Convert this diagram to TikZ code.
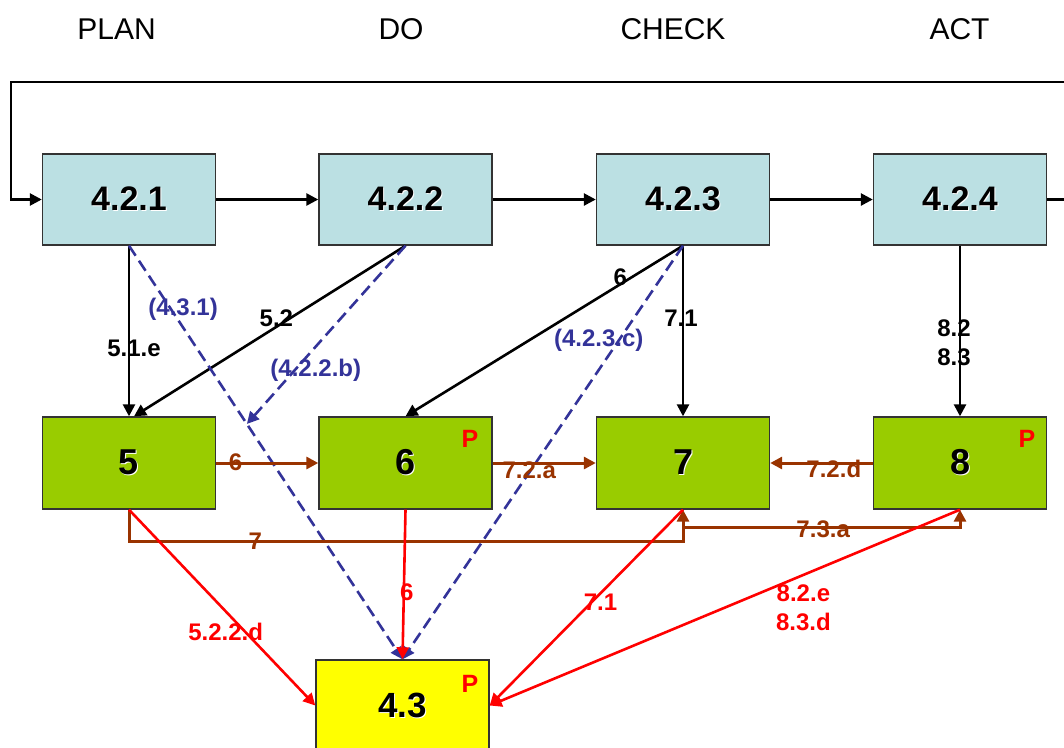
\documentclass[tikz,border=0pt]{standalone}
\usepackage{fontspec}
\setmainfont{Liberation Sans}
\usetikzlibrary{arrows.meta,calc}
\definecolor{boxblue}{HTML}{BBE0E3}
\definecolor{boxgreen}{HTML}{99CC00}
\definecolor{boxyellow}{HTML}{FFFF00}
\definecolor{lnbrown}{HTML}{993300}
\definecolor{lnblue}{HTML}{333399}
\definecolor{lnred}{HTML}{FF0000}
\newcommand\emb[1]{\leavevmode\rlap{\kern1pt\raisebox{-1pt}{\color{white}#1}}#1}
\begin{document}
\begin{tikzpicture}[x=1pt,y=-1pt,
  box/.style={draw=black!80,line width=1.4pt,minimum width=173pt,minimum height=91pt,inner sep=0pt,font=\fontsize{34}{40}\selectfont\bfseries},
  midbox/.style={box,fill=boxgreen,minimum height=92pt,font=\fontsize{36}{42}\selectfont\bfseries},
  hdr/.style={anchor=base,inner sep=0pt,font=\fontsize{30}{36}\selectfont},
  lbl/.style={inner sep=0pt,font=\fontsize{24}{29}\selectfont\bfseries},
  pmark/.style={inner sep=0pt,text=lnred,font=\fontsize{25}{30}\selectfont\bfseries},
  tip/.style={-{Triangle[length=12pt,width=12pt]}},
  blk/.style={draw=black,line width=2.6pt,tip},
  bl/.style={draw=lnblue,line width=2.6pt,dash pattern=on 12pt off 6pt,tip},
  br/.style={draw=lnbrown,line width=3pt,tip},
  rd/.style={draw=lnred,line width=2.6pt,tip}]
\useasboundingbox (0,0) rectangle (1064,747);
\clip (0,0) rectangle (1064,747);
\fill[white] (0,0) rectangle (1064,747);
% headers
\node[hdr] (hplan) at (116.5,39.3) {PLAN};
\node[hdr] (hdo) at (401,39.3) {DO};
\node[hdr] (hcheck) at (673,39.3) {CHECK};
\node[hdr] (hact) at (959.5,39.3) {ACT};
% boxes
\node[box,fill=boxblue] (n421) at (129,199.5) {\emb{4.2.1}};
\node[box,fill=boxblue] (n422) at (405.5,199.5) {\emb{4.2.2}};
\node[box,fill=boxblue] (n423) at (683,199.5) {\emb{4.2.3}};
\node[box,fill=boxblue] (n424) at (960,199.5) {\emb{4.2.4}};
\node[midbox] (n5) at (129,463) {\emb{5}};
\node[midbox] (n6) at (405.5,463) {\emb{6}};
\node[midbox] (n7) at (683,463) {\emb{7}};
\node[midbox] (n8) at (960,463) {\emb{8}};
\node[box,fill=boxyellow,font=\fontsize{35}{41}\selectfont\bfseries] (n43) at (402.5,705.5) {\emb{4.3}};
\node[pmark] (p6) at (470,439) {P};
\node[pmark] (p8) at (1027,439) {P};
\node[pmark] (p43) at (470,684) {P};
% top chain and loop
\draw[blk] (n421) -- (n422);
\draw[blk] (n422) -- (n423);
\draw[blk] (n423) -- (n424);
\coordinate (lr) at (1085,199.5);
\coordinate (ltr) at (1085,82);
\coordinate (ltl) at (11,82);
\coordinate (llb) at (11,199.5);
\draw[blk] (n424.east) -- (lr) -- (ltr) -- (ltl) -- (llb) -- (n421.west);
% black down arrows
\draw[blk] (n421.south) -- (n5.north) node[lbl,pos=0.6,xshift=5pt]{5.1.e};
\draw[blk] (n422.south) -- ([xshift=5pt]n5.north) node[lbl,pos=0.424,xshift=-14pt]{5.2};
\draw[blk] (n423.south) -- (n6.north) node[lbl,pos=0.186,xshift=-11pt]{6};
\draw[blk] (n423.south) -- (n7.north) node[lbl,pos=0.424,xshift=-2pt]{7.1};
\draw[blk] (n424.south) -- (n8.north) node[lbl,pos=0.57,xshift=-6pt,align=center]{8.2\\8.3};
% blue dashed
\draw[bl] (n421.south) -- (n43.north) node[lbl,text=lnblue,pos=0.154,xshift=12pt]{(4.3.1)};
\coordinate (b22) at ($(n421.south)!0.431!(n43.north)$);
\draw[bl] (n422.south) -- (b22) node[lbl,text=lnblue,pos=0.698,xshift=21pt]{(4.2.2.b)};
\draw[bl] (n423.south) -- (n43.north) node[lbl,text=lnblue,pos=0.229,xshift=-20pt]{(4.2.3.c)};
% brown
\draw[br] (n5) -- (n6) node[lbl,text=lnbrown,pos=0.19,yshift=1pt]{6};
\draw[br] (n6) -- (n7) node[lbl,text=lnbrown,pos=0.354,yshift=-7pt]{7.2.a};
\draw[br] (n8) -- (n7) node[lbl,text=lnbrown,pos=0.38,yshift=-6pt]{7.2.d};
\draw[br] (n5.south) -- ++(0,32) -| (n7.south) node[lbl,text=lnbrown,pos=0.114]{7};
\coordinate (j7) at ($(n7.south)+(0,18)$);
\draw[br] (j7) -| (n8.south) node[lbl,text=lnbrown,pos=0.253,yshift=-2pt]{7.3.a};
% red
\draw[rd] (n5.south) -- (n43.west) node[lbl,text=lnred,pos=0.626,xshift=-20pt]{5.2.2.d};
\draw[rd] (n6.south) -- (n43.north) node[lbl,text=lnred,pos=0.55,xshift=3pt]{6};
\draw[rd] (n7.south) -- (n43.east) node[lbl,text=lnred,pos=0.473,xshift=9pt]{7.1};
\draw[rd] (n8.south) -- (n43.east) node[lbl,text=lnred,pos=0.333,yshift=-33pt,align=center]{8.2.e\\8.3.d};
\end{tikzpicture}
\end{document}
